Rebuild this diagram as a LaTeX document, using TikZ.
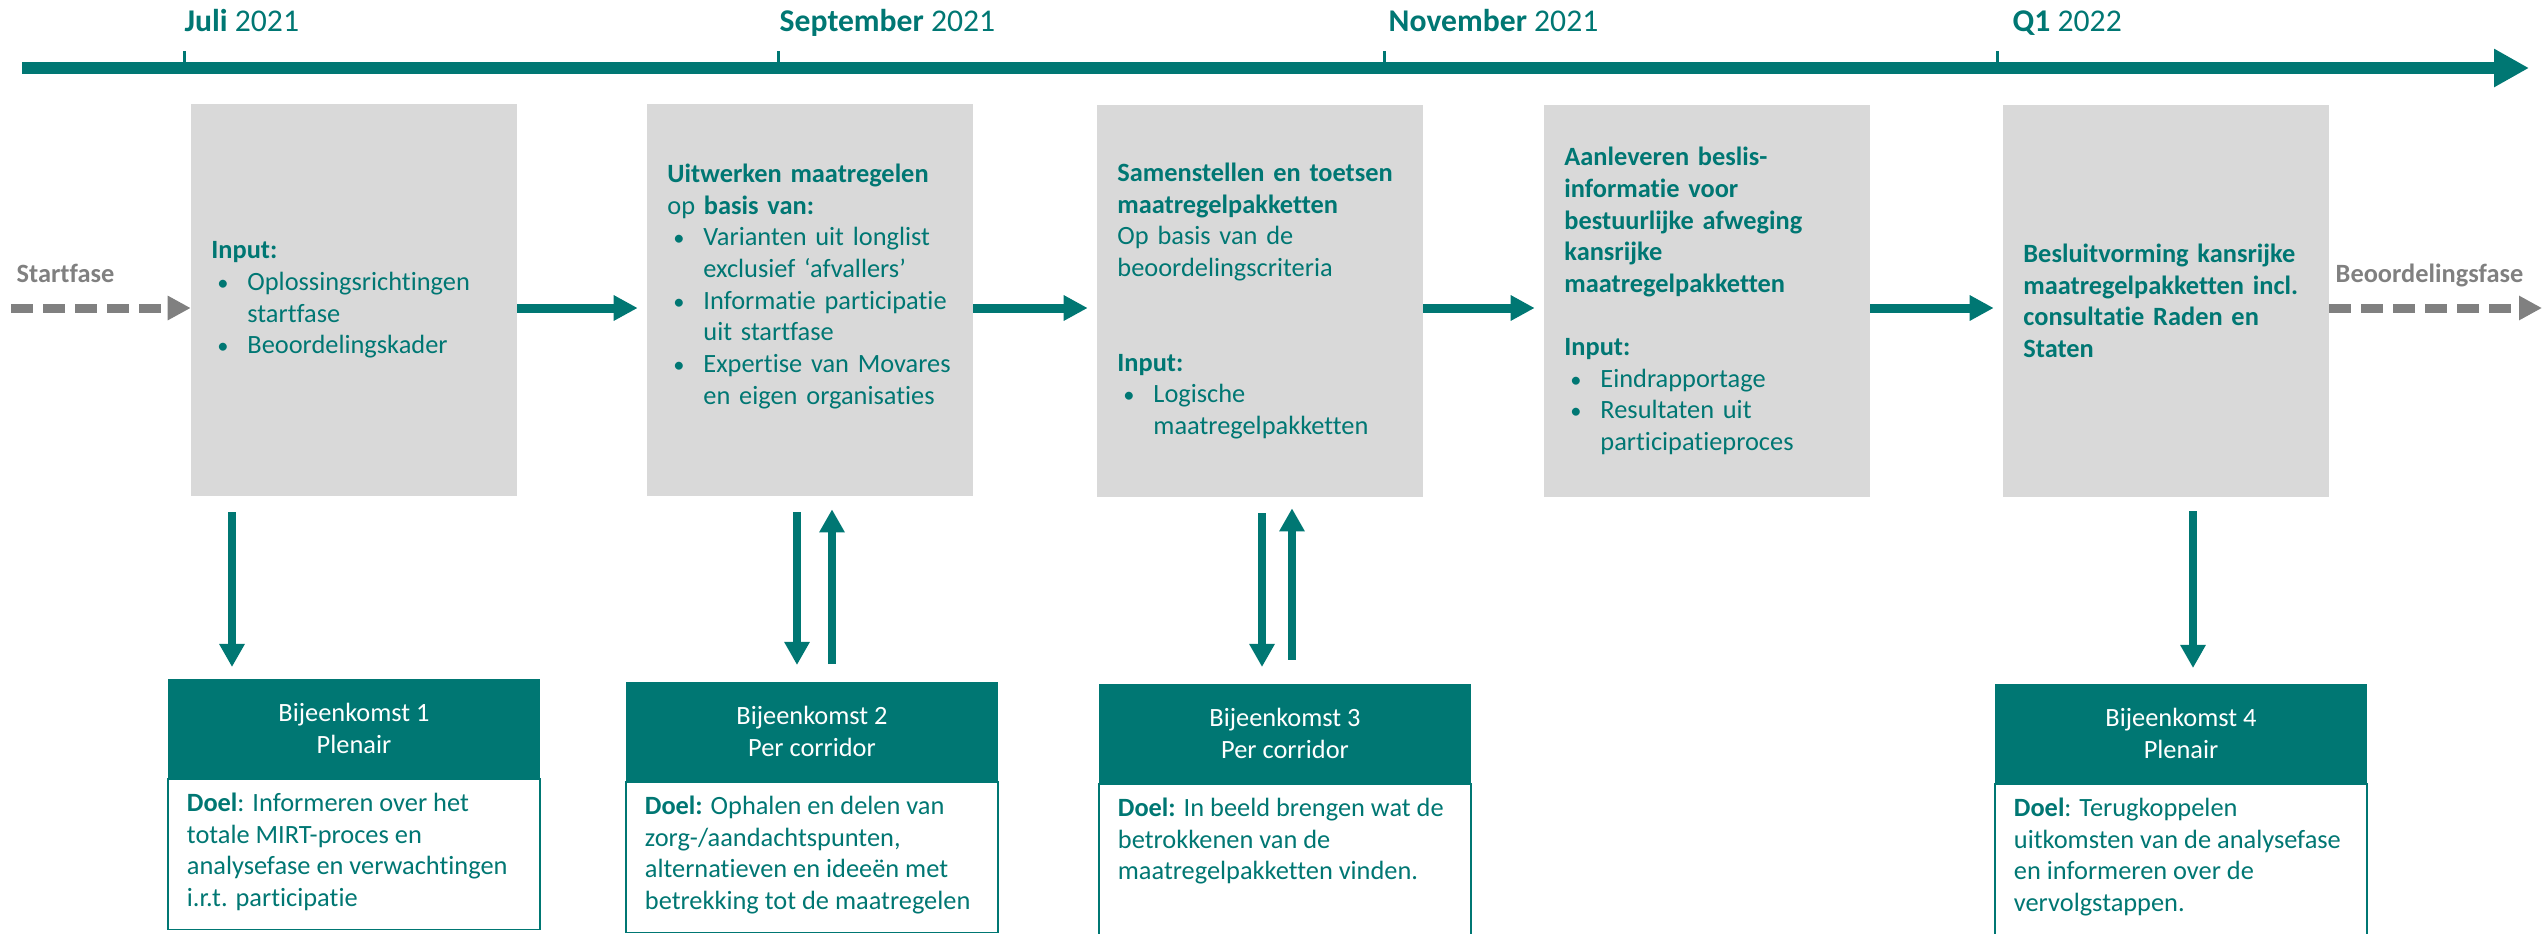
\documentclass[tikz,border=0pt]{standalone}
\usepackage{fontspec}
\setmainfont{Carlito}[Ligatures = {NoCommon}]
\usetikzlibrary{arrows.meta}
\definecolor{teal}{RGB}{0,119,115}
\definecolor{boxgray}{RGB}{217,217,217}
\definecolor{phasegray}{RGB}{128,128,128}
\newcommand{\pbul}{\makebox[0.36cm][l]{\hspace{0.06cm}\scalebox{0.85}{\textbullet}}}
\newcommand{\pind}{\makebox[0.36cm]{}}

\begin{document}
\begin{tikzpicture}[x = 0.01cm, y = -0.01cm]
	\tikzstyle{phaseStyle}=[rectangle, fill = boxgray, text = teal, text width = 2.85cm, inner xsep = 0.2cm, inner ysep = 0pt, minimum height = 3.91cm, align = left, font = \fontsize{7.5}{9}\selectfont]
	\tikzstyle{meetHeadStyle}=[rectangle, fill = teal, text = white, minimum width = 3.72cm, minimum height = 0.99cm, inner sep = 0pt, align = center, anchor = north, font = \fontsize{7.5}{9}\selectfont]
	\tikzstyle{meetBodyStyle}=[rectangle, draw = teal, line width = 0.5pt, fill = white, text = teal, inner xsep = 0.19cm, inner ysep = 0.1cm, anchor = north, font = \fontsize{7.5}{9}\selectfont]
	\tikzstyle{dateStyle}=[anchor = base west, inner sep = 0pt, text = teal, font = \fontsize{9}{11}\selectfont]
	\tikzstyle{fazeStyle}=[anchor = base west, inner sep = 0pt, text = phasegray, font = \fontsize{7.5}{9}\selectfont\bfseries]
	\tikzstyle{flowStyle}=[draw = teal, line width = 0.09cm, -{Triangle[length = 0.24cm, width = 0.24cm]}]
	\tikzstyle{feedStyle}=[draw = teal, line width = 0.08cm, -{Triangle[length = 0.23cm, width = 0.24cm]}]
	\tikzstyle{fazeArrowStyle}=[draw = phasegray, line width = 0.09cm, dash pattern = on 0.22cm off 0.1cm, -{Triangle[length = 0.23cm, width = 0.23cm]}]
	\useasboundingbox (0,0) rectangle (2542,933);
	\draw[draw = teal, line width = 0.12cm, -{Triangle[length = 0.35cm, width = 0.36cm]}] (22,68) -- (2529,68);
	\foreach \x in {184,778,1384,1997}
		\draw[teal, line width = 0.03cm] (\x,51) -- (\x,63);
	\node[dateStyle] (d1) at (184,31) {\textbf{Juli} 2021};
	\node[dateStyle] (d2) at (779,31) {\textbf{September} 2021};
	\node[dateStyle] (d3) at (1388,31) {\textbf{November} 2021};
	\node[dateStyle] (d4) at (2012,31) {\textbf{Q1} 2022};
	\node[phaseStyle] (b1) at (354,300) {\textbf{Input:}\\ \pbul Oplossingsrichtingen\\ \pind startfase\\ \pbul Beoordelingskader};
	\node[phaseStyle] (b2) at (810,300) {\textbf{Uitwerken maatregelen}\\ op \textbf{basis van:}\\ \pbul Varianten uit longlist\\ \pind exclusief ‘afvallers’\\ \pbul Informatie participatie\\ \pind uit startfase\\ \pbul Expertise van Movares\\ \pind en eigen organisaties\\ \mbox{}};
	\node[phaseStyle] (b3) at (1260,301) {\textbf{Samenstellen en toetsen}\\ \textbf{maatregelpakketten}\\ Op basis van de\\ beoordelingscriteria\\ \mbox{}\\ \mbox{}\\ \textbf{Input:}\\ \pbul Logische\\ \pind maatregelpakketten};
	\node[phaseStyle] (b4) at (1707,301) {\textbf{Aanleveren beslis-}\\ \textbf{informatie voor}\\ \textbf{bestuurlijke afweging}\\ \textbf{kansrijke}\\ \textbf{maatregelpakketten}\\ \mbox{}\\ \textbf{Input:}\\ \pbul Eindrapportage\\ \pbul Resultaten uit\\ \pind participatieproces};
	\node[phaseStyle] (b5) at (2166,301) {\textbf{Besluitvorming kansrijke}\\ \textbf{maatregelpakketten incl.}\\ \textbf{consultatie Raden en}\\ \textbf{Staten}};
	\node[fazeStyle] (f1) at (16,282) {Startfase};
	\node[fazeStyle] (f2) at (2335,282) {Beoordelingsfase};
	\coordinate (row) at (0,308);
	\coordinate (orig) at (11,308);
	\coordinate (fin) at (2542,308);
	\draw[fazeArrowStyle] (orig) -- (row -| b1.west);
	\draw[flowStyle, shorten > = 0.09cm] (row -| b1.east) -- (row -| b2.west);
	\draw[flowStyle, shorten > = 0.09cm] (row -| b2.east) -- (row -| b3.west);
	\draw[flowStyle, shorten > = 0.09cm] (row -| b3.east) -- (row -| b4.west);
	\draw[flowStyle, shorten > = 0.09cm] (row -| b4.east) -- (row -| b5.west);
	\draw[fazeArrowStyle] (row -| b5.east) -- (fin);
	\node[meetHeadStyle] (h1) at (354,678) {Bijeenkomst 1\\ Plenair};
	\node[meetHeadStyle] (h2) at (812,681) {Bijeenkomst 2\\ Per corridor};
	\node[meetHeadStyle] (h3) at (1285,683) {Bijeenkomst 3\\ Per corridor};
	\node[meetHeadStyle] (h4) at (2181,683) {Bijeenkomst 4\\ Plenair};
	\node[meetBodyStyle] (g1) at (h1.south) {\parbox[c][1.3cm][t]{3.34cm}{\strut\textbf{Doel}: Informeren over het\\ totale MIRT-proces en\\ analysefase en verwachtingen\\ i.r.t. participatie}};
	\node[meetBodyStyle] (g2) at (h2.south) {\parbox[c][1.3cm][t]{3.34cm}{\strut\textbf{Doel:} Ophalen en delen van\\ zorg-/aandachtspunten,\\ alternatieven en ideeën met\\ betrekking tot de maatregelen}};
	\node[meetBodyStyle] (g3) at (h3.south) {\parbox[c][1.3cm][t]{3.34cm}{\strut\textbf{Doel:} In beeld brengen wat de\\ betrokkenen van de\\ maatregelpakketten vinden.}};
	\node[meetBodyStyle] (g4) at (h4.south) {\parbox[c][1.4cm][t]{3.34cm}{\strut\textbf{Doel}: Terugkoppelen\\ uitkomsten van de analysefase\\ en informeren over de\\ vervolgstappen.}};
	\coordinate (v1) at (232,0);
	\coordinate (v2) at (797,0);
	\coordinate (v3) at (832,0);
	\coordinate (v4) at (1262,0);
	\coordinate (v5) at (1292,0);
	\coordinate (v6) at (2193,0);
	\draw[feedStyle, shorten < = 0.16cm, shorten > = 0.11cm] (b1.south -| v1) -- (h1.north -| v1);
	\draw[feedStyle, shorten < = 0.16cm, shorten > = 0.16cm] (b2.south -| v2) -- (h2.north -| v2);
	\draw[feedStyle, shorten < = 0.17cm, shorten > = 0.13cm] (h2.north -| v3) -- (b2.south -| v3);
	\draw[feedStyle, shorten < = 0.16cm, shorten > = 0.16cm] (b3.south -| v4) -- (h3.north -| v4);
	\draw[feedStyle, shorten < = 0.23cm, shorten > = 0.11cm] (h3.north -| v5) -- (b3.south -| v5);
	\draw[feedStyle, shorten < = 0.14cm, shorten > = 0.15cm] (b5.south -| v6) -- (h4.north -| v6);
\end{tikzpicture}
\end{document}
